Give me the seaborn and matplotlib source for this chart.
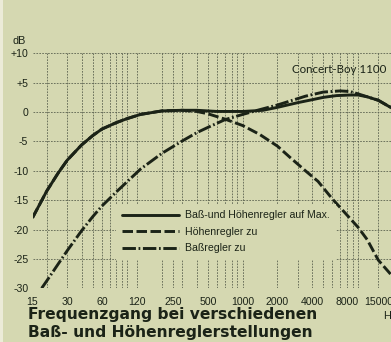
import matplotlib
matplotlib.use("Agg")
import matplotlib.pyplot as plt
import pandas as pd
import seaborn as sns
from matplotlib.lines import Line2D
from matplotlib.patches import Rectangle

# --- measured response curves (Hz, dB) ---
freq_max = [15, 20, 25, 30, 40, 50, 60, 80, 100, 130, 200, 300, 400, 600,
            1000, 1500, 2000, 3000, 4000, 5000, 6500, 8500, 10000, 12000,
            15000, 18000, 20000]
db_max = [-18.0, -13.4, -10.4, -8.2, -5.6, -4.0, -2.9, -1.8, -1.1, -0.4,
          0.2, 0.3, 0.3, 0.1, 0.1, 0.3, 0.8, 1.6, 2.1, 2.5, 2.8, 2.9, 2.9,
          2.6, 2.0, 1.1, 0.6]

freq_treble_cut = [15, 20, 25, 30, 40, 50, 60, 80, 100, 130, 200, 300, 400,
                   500, 700, 1000, 1400, 2000, 2600, 3500, 4500, 6000, 8000,
                   10000, 12000, 15000, 20000]
db_treble_cut = [-18.0, -13.4, -10.4, -8.2, -5.6, -4.0, -2.9, -1.8, -1.1,
                 -0.4, 0.2, 0.3, 0.1, -0.3, -1.2, -2.3, -3.8, -5.8, -7.8,
                 -10.0, -11.8, -14.8, -17.5, -19.6, -21.7, -25.2, -28.0]

freq_bass_cut = [18, 20, 30, 40, 50, 60, 80, 100, 130, 200, 300, 400, 500,
                 700, 1000, 1400, 2000, 2500, 3500, 5000, 7000, 8500, 10000,
                 12000, 15000, 20000]
db_bass_cut = [-30.0, -28.7, -23.6, -20.2, -17.8, -16.0, -13.6, -11.8, -9.7,
               -7.0, -4.9, -3.5, -2.6, -1.3, -0.4, 0.4, 1.2, 1.8, 2.7, 3.4,
               3.6, 3.5, 3.1, 2.6, 2.0, 0.6]

labels = ["Baß-und Höhenregler auf Max.", "Höhenregler zu", "Baßregler zu"]

x_tick_values = [15, 30, 60, 120, 250, 500, 1000, 2000, 4000, 8000, 15000]
x_tick_labels = ["15", "30", "60", "120", "250", "500", "1000", "2000",
                 "4000", "8000", "15000"]
x_grid_values = [20, 40, 50, 70, 80, 90, 100, 200, 300, 400, 600, 700, 800,
                 900, 3000, 5000, 6000, 7000, 9000, 10000]
y_tick_values = [10, 5, 0, -5, -10, -15, -20, -25, -30]
y_tick_labels = ["+10", "+5", "0", "-5", "-10", "-15", "-20", "-25", "-30"]

# --- styling ---
paper = "#d5d8b1"
ink = "#1b2317"
grid_ink = "#5c6250"
sans = ["Liberation Sans", "DejaVu Sans"]
heading = ["DejaVu Sans"]

sns.set_theme(style="white")
plt.rcParams["font.family"] = sans

W, H = 391, 342
fig = plt.figure(figsize=(W / 100, H / 100), dpi=100, facecolor=paper)
fig.patches.append(Rectangle((0, 0), 3 / W, 1, transform=fig.transFigure,
                             facecolor="#ecebd8", edgecolor="none", zorder=0))

left_px, right_px, top_px, bottom_px = 32.5, 392.7, 53.3, 288.3
ax = fig.add_axes([left_px / W, 1 - bottom_px / H,
                   (right_px - left_px) / W, (bottom_px - top_px) / H])
ax.set_facecolor(paper)
ax.set_xscale("log")
ax.set_xlim(15, 20000)
ax.set_ylim(-30, 10)

frames = [
    pd.DataFrame({"Hz": freq_max, "dB": db_max}),
    pd.DataFrame({"Hz": freq_treble_cut, "dB": db_treble_cut}),
    pd.DataFrame({"Hz": freq_bass_cut, "dB": db_bass_cut}),
]
dash_styles = [(None, None), (3.6, 1.2), (4.6, 0.9, 0.6, 0.9)]
lw = 2.1
for frame, dash in zip(frames, dash_styles):
    sns.lineplot(data=frame, x="Hz", y="dB", ax=ax, color=ink, linewidth=lw,
                 sort=False, legend=False, zorder=3)
    line = ax.lines[-1]
    if dash[0] is not None:
        line.set_dashes(dash)
    line.set_solid_capstyle("butt")
    line.set_dash_capstyle("butt")
    line.set_solid_joinstyle("round")

# grid, drawn on the major ticks (labelled) and minor ticks (unlabelled)
ax.set_xticks(x_tick_values)
ax.set_xticklabels(x_tick_labels)
ax.set_xticks(x_grid_values, minor=True)
ax.set_xticklabels([], minor=True)
ax.set_yticks(y_tick_values)
ax.set_yticklabels(y_tick_labels)
ax.grid(True, which="both", axis="both", color=grid_ink, linewidth=0.6,
        linestyle=(0, (2.0, 1.5)), zorder=1)
ax.tick_params(axis="both", which="both", length=0, colors=ink,
               labelsize=7.6)
ax.tick_params(axis="x", pad=6.0)
ax.tick_params(axis="y", pad=3)
for sp in ax.spines.values():
    sp.set_visible(False)
ax.set_xlabel("")
ax.set_ylabel("")

# legend
handles = [Line2D([], [], color=ink, linewidth=lw) for _ in labels]
handles[1].set_dashes(dash_styles[1])
handles[2].set_dashes(dash_styles[2])
for h in handles:
    h.set_dash_capstyle("butt")
leg = ax.legend(handles, labels, loc="upper left",
                bbox_to_anchor=(116 / W, 1 - 204 / H),
                bbox_transform=fig.transFigure, frameon=True,
                facecolor=paper, edgecolor="none", framealpha=1,
                fontsize=7.6, handlelength=5.4, handletextpad=0.5,
                labelspacing=0.62, borderpad=0.6, borderaxespad=0,
                fancybox=False)
leg.set_zorder(5)
for t in leg.get_texts():
    t.set_color(ink)

# annotations
ax.text(0.983, 0.93, "Concert-Boy 1100", transform=ax.transAxes,
        fontsize=8.3, color=ink, ha="right", va="center",
        family=["Lato", "DejaVu Sans"], zorder=6)
fig.text(19 / W, 1 - 40.5 / H, "dB", fontsize=7.8, color=ink,
         ha="center", va="center")
fig.text(383 / W, 1 - 318.7 / H, "Hz", fontsize=7.8, color=ink,
         ha="left", va="baseline")
fig.text(28 / W, 1 - 318.7 / H, "Frequenzgang bei verschiedenen",
         fontsize=11.2, fontweight="bold", color=ink, ha="left",
         va="baseline", family=heading)
fig.text(28 / W, 1 - 336.7 / H, "Baß- und Höhenreglerstellungen",
         fontsize=11.2, fontweight="bold", color=ink, ha="left",
         va="baseline", family=heading)

fig.savefig("out.png", dpi=100, facecolor=paper)
